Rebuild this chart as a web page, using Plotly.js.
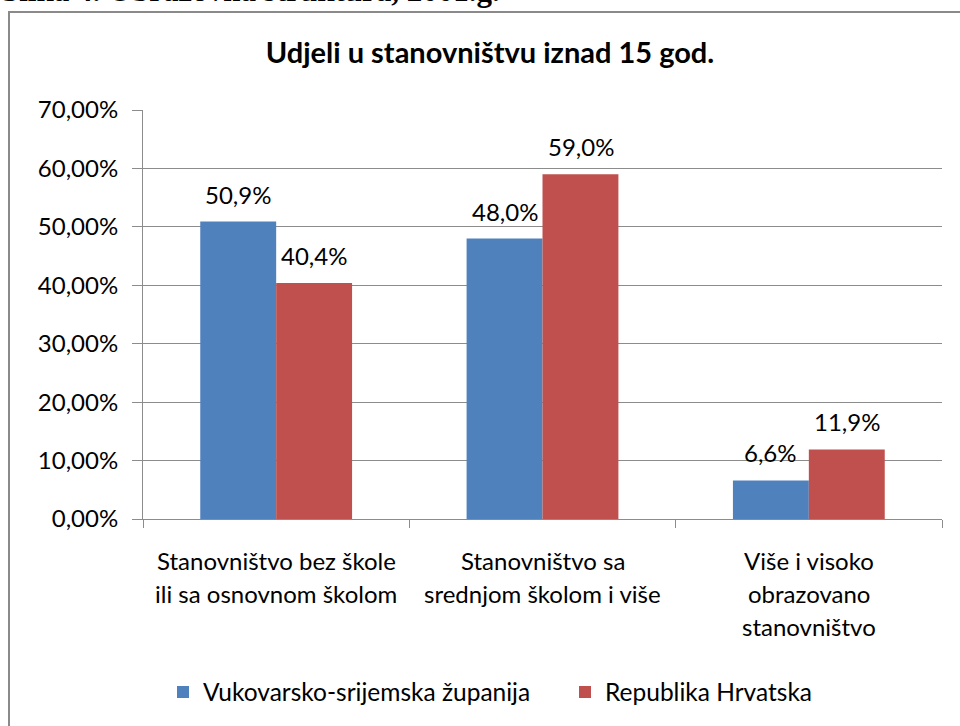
<!DOCTYPE html>
<html>
<head>
<meta charset="utf-8">
<script src="https://cdn.plot.ly/plotly-3.0.1.min.js"></script>
<style>html,body{margin:0;padding:0;background:#fff;overflow:hidden}#chart{width:960px;height:726px}</style>
</head>
<body>
<div id="chart"></div>
<script>
const categories = [
  "Stanovništvo bez škole<br>ili sa osnovnom školom",
  "Stanovništvo sa<br>srednjom školom i više",
  "Više i visoko<br>obrazovano<br>stanovništvo"
];
const seriesNames = ["Vukovarsko-srijemska županija", "Republika Hrvatska"];
const vukovarsko = [0.509, 0.480, 0.066];
const hrvatska = [0.404, 0.590, 0.119];
const yTicks = [0, 0.1, 0.2, 0.3, 0.4, 0.5, 0.6, 0.7];
const colors = ["#4F81BD", "#C0504D"];

const FONT = "Lato, 'Open Sans', sans-serif";
const FS = 24;
const plotL = 143, plotR = 942, plotT = 110, plotB = 519;
const W = 960, H = 726;
const pw = plotR - plotL, ph = plotB - plotT;
const px = x => (x - plotL) / pw;
const py = y => (plotB - y) / ph;

const catKeys = categories.map((c, i) => "c" + i);

const traces = [vukovarsko, hrvatska].map((vals, k) => ({
  type: "bar",
  name: seriesNames[k],
  x: catKeys,
  y: vals,
  marker: {color: colors[k], line: {width: 0}},
  legendwidth: k === 0 ? 357 : 215,
  hoverinfo: "none"
}));

const annotations = [];
// data labels
[vukovarsko, hrvatska].forEach((vals, k) => {
  vals.forEach((v, i) => {
    annotations.push({
      x: catKeys[i], y: v, xref: "x", yref: "y",
      text: (v * 100).toFixed(1).replace(".", ",") + "%",
      showarrow: false, xanchor: "center", yanchor: "bottom",
      xshift: k === 0 ? -38 : 38, yshift: 11,
      font: {family: FONT, size: FS, color: "#000"}
    });
  });
});
// category labels, one per line
categories.forEach((c, i) => {
  c.split("<br>").forEach((line, j) => {
    annotations.push({
      x: catKeys[i], xref: "x", yref: "paper",
      y: py(560 + j * 33), yanchor: "middle", xanchor: "center",
      text: line, showarrow: false,
      font: {family: FONT, size: FS, color: "#000"}
    });
  });
});
// cut-off heading above the chart box
annotations.push({
  xref: "paper", yref: "paper", x: px(0), y: py(10),
  xanchor: "left", yanchor: "bottom",
  text: "<b>Slika 4. Obrazovna struktura, 2001.g.</b>",
  showarrow: false,
  font: {family: "'Liberation Serif', 'Times New Roman', serif", size: 31, color: "#000"}
});

const layout = {
  width: W, height: H,
  margin: {l: plotL, r: W - plotR, t: plotT, b: H - plotB, pad: 0, autoexpand: false},
  paper_bgcolor: "#fff", plot_bgcolor: "#fff",
  separators: ",.",
  barmode: "group",
  bargap: 0.43,
  bargroupgap: 0,
  showlegend: true,
  title: {
    text: "<b>Udjeli u stanovništvu iznad 15 god.</b>",
    font: {family: FONT, size: 29, color: "#000"},
    xref: "container", yref: "container",
    x: 490 / W, y: 1 - 53 / H, xanchor: "center", yanchor: "middle"
  },
  xaxis: {
    type: "category",
    showticklabels: false,
    tickson: "boundaries",
    ticks: "outside", ticklen: 8, tickcolor: "#8c8c8c", tickwidth: 1,
    showline: true, linecolor: "#8c8c8c", linewidth: 1,
    showgrid: false, zeroline: false, fixedrange: true
  },
  yaxis: {
    range: [0, 0.7],
    tickvals: yTicks,
    tickformat: ".2%",
    ticks: "outside", ticklen: 10, tickcolor: "#8c8c8c", tickwidth: 1,
    ticklabelstandoff: 9,
    showline: true, linecolor: "#8c8c8c", linewidth: 1,
    showgrid: true, gridcolor: "#8c8c8c", gridwidth: 1,
    zeroline: false, fixedrange: true,
    tickfont: {family: FONT, size: FS, color: "#000"}
  },
  legend: {
    orientation: "h",
    xref: "paper", yref: "paper",
    x: px(163), y: py(692), xanchor: "left", yanchor: "middle",
    font: {family: FONT, size: 24.5, color: "#000"},
    itemwidth: 30, tracegroupgap: 0,
    bgcolor: "rgba(0,0,0,0)"
  },
  shapes: [{
    type: "rect", xref: "paper", yref: "paper",
    x0: px(9), x1: px(975), y0: py(740), y1: py(12),
    line: {color: "#8a8a8a", width: 2}, fillcolor: "rgba(0,0,0,0)", layer: "below"
  }],
  annotations: annotations
};

Plotly.newPlot("chart", traces, layout, {displayModeBar: false, staticPlot: true});
</script>
</body>
</html>
